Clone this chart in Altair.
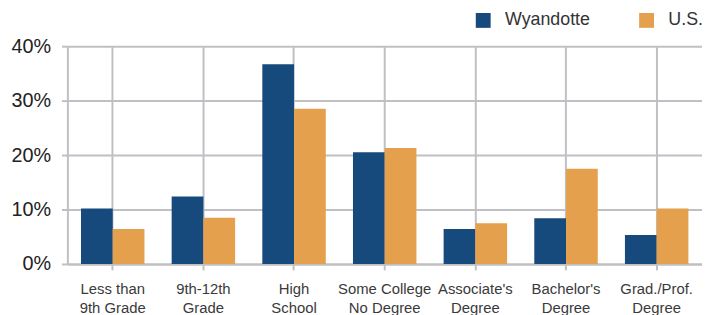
import altair as alt
import pandas as pd

categories = ["Less than|9th Grade", "9th-12th|Grade", "High|School", "Some College|No Degree",
              "Associate's|Degree", "Bachelor's|Degree", "Grad./Prof.|Degree"]
wyandotte = [0.102, 0.124, 0.367, 0.205, 0.064, 0.084, 0.053]
us = [0.064, 0.085, 0.285, 0.213, 0.075, 0.175, 0.102]
series = ["Wyandotte", "U.S."]
colors = ["#174A7C", "#E4A04C"]

rows = []
for c, w, u in zip(categories, wyandotte, us):
    rows.append({"cat": c, "series": "Wyandotte", "value": w})
    rows.append({"cat": c, "series": "U.S.", "value": u})
df = pd.DataFrame(rows)

FONT = "Liberation Sans, sans-serif"
GRID = "#C0C0C4"

chart = alt.Chart(df).mark_bar().encode(
    x=alt.X("cat:N", sort=categories, title=None,
            scale=alt.Scale(paddingInner=0.3, paddingOuter=0.15),
            axis=alt.Axis(labelExpr="split(datum.label, '|')", labelAngle=0,
                          bandPosition=0.5, grid=True, gridColor=GRID, gridWidth=2,
                          tickColor=GRID, tickWidth=2, tickSize=6,
                          domainColor=GRID, domainWidth=2,
                          labelFont=FONT, labelFontSize=15, labelColor="#3a3a3a",
                          labelPadding=12, labelLineHeight=19)),
    xOffset=alt.XOffset("series:N", sort=series),
    y=alt.Y("value:Q", title=None,
            scale=alt.Scale(domain=[0, 0.4]),
            axis=alt.Axis(format=".0%", values=[0, 0.1, 0.2, 0.3, 0.4],
                          gridColor=GRID, gridWidth=2,
                          tickColor=GRID, tickWidth=2, tickSize=6,
                          domainColor=GRID, domainWidth=2,
                          labelFont=FONT, labelFontSize=20, labelColor="#222222",
                          labelPadding=11)),
    color=alt.Color("series:N", sort=series,
                    scale=alt.Scale(domain=series, range=colors),
                    legend=alt.Legend(title=None, orient="none", direction="horizontal",
                                      legendX=411, legendY=-35,
                                      symbolType="square", symbolSize=225,
                                      symbolStrokeWidth=0, labelFont=FONT,
                                      labelFontSize=18, labelColor="#333333",
                                      labelOffset=13, columnPadding=48,
                                      labelLimit=300)),
).properties(
    width=641, height=220,
    autosize=alt.AutoSizeParams(type="none"),
    padding={"left": 60, "top": 37, "right": 0, "bottom": 50},
).configure_view(stroke=None)

chart.save("out.html", embed_options={"renderer": "svg", "actions": False})
